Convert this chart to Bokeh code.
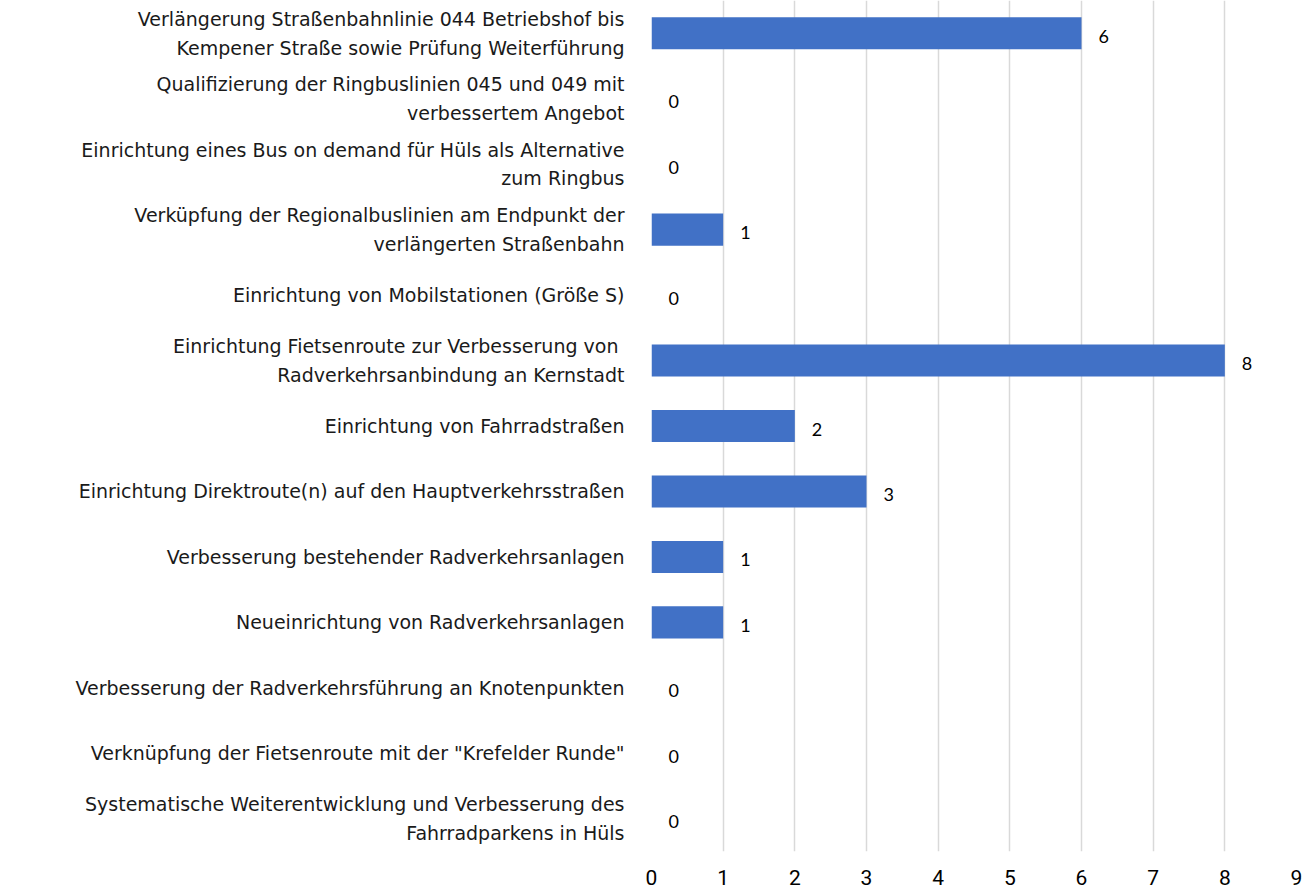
from bokeh.plotting import figure
from bokeh.models import ColumnDataSource, FactorRange, Range1d, FixedTicker
from bokeh.core.properties import value
from bokeh.embed import file_html
from bokeh.resources import INLINE

categories = [
    "Verlängerung Straßenbahnlinie 044 Betriebshof bis\nKempener Straße sowie Prüfung Weiterführung",
    "Qualifizierung der Ringbuslinien 045 und 049 mit\nverbessertem Angebot",
    "Einrichtung eines Bus on demand für Hüls als Alternative\nzum Ringbus",
    "Verküpfung der Regionalbuslinien am Endpunkt der\nverlängerten Straßenbahn",
    "Einrichtung von Mobilstationen (Größe S)",
    "Einrichtung  Fietsenroute zur Verbesserung von\nRadverkehrsanbindung an Kernstadt",
    "Einrichtung von Fahrradstraßen",
    "Einrichtung Direktroute(n) auf den Hauptverkehrsstraßen",
    "Verbesserung bestehender Radverkehrsanlagen",
    "Neueinrichtung von Radverkehrsanlagen",
    "Verbesserung der Radverkehrsführung an Knotenpunkten",
    "Verknüpfung der Fietsenroute mit der \"Krefelder Runde\"",
    "Systematische Weiterentwicklung und Verbesserung des\nFahrradparkens in Hüls",
]
values = [6, 0, 0, 1, 0, 8, 2, 3, 1, 1, 0, 0, 0]
x_ticks = [0, 1, 2, 3, 4, 5, 6, 7, 8, 9]

source = ColumnDataSource(dict(cat=categories, val=values, lab=[str(v) for v in values]))

p = figure(
    y_range=FactorRange(factors=list(reversed(categories)), range_padding=0),
    x_range=Range1d(0, 9),
    width=1316, height=892,
    min_border_left=651, min_border_right=20, min_border_top=0, min_border_bottom=41,
    output_backend="svg", toolbar_location=None,
)
p.outline_line_color = None
p.background_fill_color = "white"
p.border_fill_color = "white"

p.hbar(y="cat", right="val", left=0, height=0.49, source=source,
       fill_color="#4171C6", line_color=None)

p.text(x="val", y="cat", text="lab", source=source, x_offset=17, y_offset=3,
       text_align="left", text_baseline="middle", text_font=value("Lato"),
       text_font_size="18px", text_color="#000000")

# grid
p.ygrid.grid_line_color = None
p.xgrid.grid_line_color = "#D9D9D9"
p.xgrid.grid_line_width = 1.5
p.xaxis.ticker = FixedTicker(ticks=x_ticks)

p.xaxis.axis_line_color = None
p.xaxis.major_tick_line_color = None
p.xaxis.minor_tick_line_color = None
p.xaxis.major_label_standoff = 12
p.xaxis.major_label_text_font = "Roboto"
p.xaxis.major_label_text_font_size = "21px"
p.xaxis.major_label_text_color = "#000000"

p.yaxis.axis_line_color = None
p.yaxis.major_tick_line_color = None
p.yaxis.major_label_standoff = 21
p.yaxis.major_label_text_font = "DejaVu Sans"
p.yaxis.major_label_text_font_size = "19px"
p.yaxis.major_label_text_line_height = 1.3
p.yaxis.major_label_text_color = "#1a1a1a"

open("out.html", "w").write(file_html(p, INLINE))
